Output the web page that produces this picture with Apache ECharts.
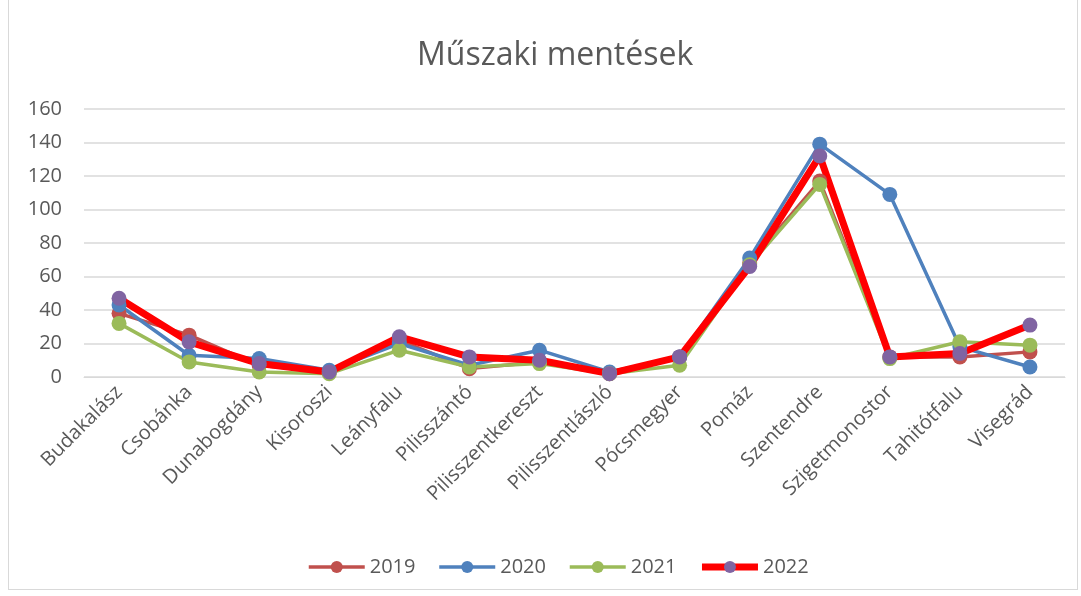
<!DOCTYPE html>
<html><head><meta charset="utf-8">
<script src="https://cdn.jsdelivr.net/npm/echarts@6/dist/echarts.min.js"></script>
<style>
html,body{margin:0;padding:0;background:#fff;}
#wrap{position:absolute;left:8px;top:-2px;width:1070px;height:592px;border:1px solid #d9d9d9;box-sizing:border-box;}
#c{position:absolute;left:0;top:0;width:1081px;height:596px;}
</style></head>
<body>
<div id="wrap"></div>
<div id="c"></div>
<script>
const categories = ["Budakalász","Csobánka","Dunabogdány","Kisoroszi","Leányfalu","Pilisszántó","Pilisszentkereszt","Pilisszentlászló","Pócsmegyer","Pomáz","Szentendre","Szigetmonostor","Tahitótfalu","Visegrád"];
const s2019 = [38, 25, 7, 3, 22, 5, 9, 2, 12, 68, 117, 12, 12, 15];
const s2020 = [43, 13, 11, 4, 20, 7, 16, 3, 12, 71, 139, 109, 18, 6];
const s2021 = [32, 9, 3, 2, 16, 6, 8, 2, 7, 67, 115, 11, 21, 19];
const s2022 = [47, 21, 8, 3, 24, 12, 10, 2, 12, 66, 132, 12, 14, 31];
const yTicks = {min: 0, max: 160, interval: 20};

const chart = echarts.init(document.getElementById('c'));
const font = '"Open Sans", Lato, sans-serif';
function mk(name, data, lineColor, markColor, width) {
  return {
    name, type: 'line', data,
    symbol: 'circle', symbolSize: 15,
    lineStyle: {color: lineColor, width},
    itemStyle: {color: markColor},
    emphasis: {disabled: true},
    animation: false
  };
}
chart.setOption({
  animation: false,
  title: {text: 'Műszaki mentések', left: 412, top: 35,
    textStyle: {fontFamily: font, fontSize: 32, fontWeight: 'normal', color: '#595959'}},
  legend: {bottom: 14, left: 302, itemWidth: 56, itemHeight: 15, itemGap: 22,
    textStyle: {fontFamily: font, fontSize: 20, color: '#595959'},
    data: [
      {name: '2019', lineStyle: {width: 3.5}},
      {name: '2020', lineStyle: {width: 3.5}},
      {name: '2021', lineStyle: {width: 3.5}},
      {name: '2022', lineStyle: {width: 7}}
    ]},
  grid: {left: 84, right: 16, top: 109, bottom: 219, containLabel: false},
  xAxis: {type: 'category', data: categories, boundaryGap: true,
    axisLine: {lineStyle: {color: '#d9d9d9', width: 1}},
    axisTick: {show: false},
    axisLabel: {rotate: 45, fontFamily: font, fontSize: 20, color: '#595959', margin: 12, interval: 0}},
  yAxis: {type: 'value', min: yTicks.min, max: yTicks.max, interval: yTicks.interval,
    axisLine: {show: false}, axisTick: {show: false},
    axisLabel: {fontFamily: font, fontSize: 20, color: '#595959', margin: 22},
    splitLine: {lineStyle: {color: '#d9d9d9', width: 1.5}}},
  series: [
    mk('2019', s2019, '#C0504D', '#C0504D', 3.5),
    mk('2020', s2020, '#4F81BD', '#4F81BD', 3.5),
    mk('2021', s2021, '#9BBB59', '#9BBB59', 3.5),
    mk('2022', s2022, '#FF0000', '#8064A2', 7)
  ]
});
</script>
</body></html>
